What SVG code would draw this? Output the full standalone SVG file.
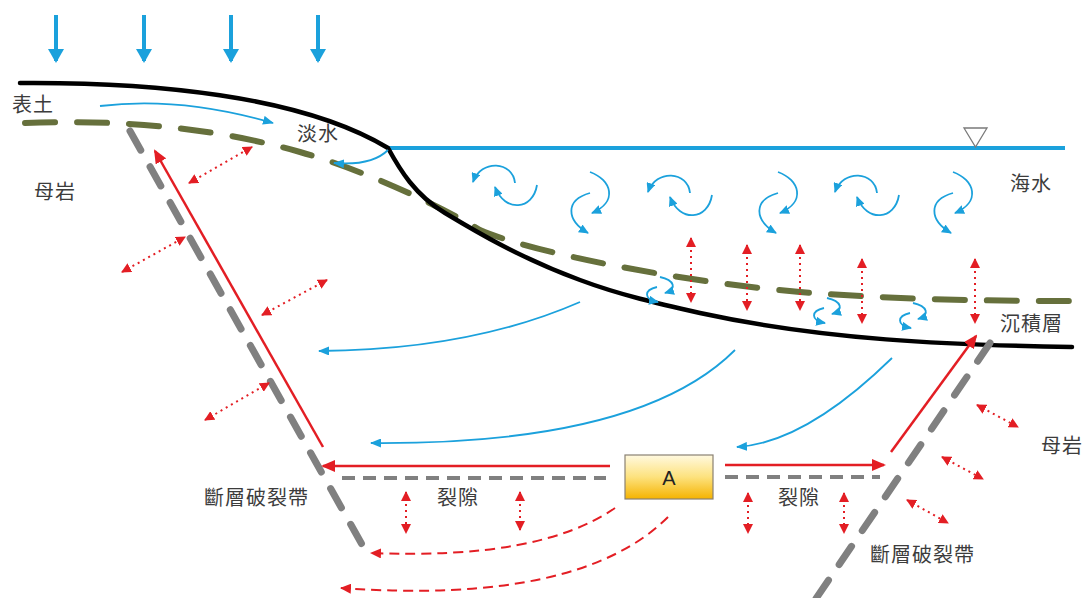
<svg xmlns="http://www.w3.org/2000/svg" xmlns:xlink="http://www.w3.org/1999/xlink" width="1084" height="598" viewBox="0 0 1084 598">
  <style>
    .lbl { font-family: "Noto Sans CJK TC", "Noto Sans CJK SC", "Noto Sans", sans-serif; font-size: 20px; fill: #3c3c3c; letter-spacing: 1px; }
    .flow { fill: none; stroke: #1ba1dc; stroke-width: 1.8; marker-end: url(#ahBlue); }
    .swirl { fill: none; stroke: #1ba1dc; stroke-width: 1.8; marker-end: url(#ahBlueS); }
    .rain { stroke: #1ba1dc; stroke-width: 4; marker-end: url(#ahRain); }
    .dot { fill: none; stroke: #e31e24; stroke-width: 2; stroke-dasharray: 2 4; marker-start: url(#ahRedS); marker-end: url(#ahRedS); }
    .redSolid { fill: none; stroke: #e31e24; stroke-width: 2.5; marker-end: url(#ahRedL); }
    .redDash { fill: none; stroke: #e31e24; stroke-width: 2; stroke-dasharray: 10 6; marker-end: url(#ahRedD); }
    .fault { fill: none; stroke: #808080; stroke-width: 7; stroke-linecap: round; stroke-dasharray: 22 19; }
    .crack { fill: none; stroke: #808080; stroke-width: 4; stroke-dasharray: 13 8; }
  </style>
  <defs>
    <marker id="ahBlue" viewBox="0 0 11 9" refX="10" refY="4.5" markerWidth="11" markerHeight="9" markerUnits="userSpaceOnUse" orient="auto">
      <path d="M0,0 L11,4.5 L0,9 z" fill="#1ba1dc"/>
    </marker>
    <marker id="ahBlueS" viewBox="0 0 10 9" refX="9" refY="4.5" markerWidth="10" markerHeight="9" markerUnits="userSpaceOnUse" orient="auto">
      <path d="M0,0 L10,4.5 L0,9 z" fill="#1ba1dc"/>
    </marker>
    <marker id="ahRain" viewBox="0 0 14 16" refX="12" refY="8" markerWidth="14" markerHeight="16" markerUnits="userSpaceOnUse" orient="auto">
      <path d="M0,0 L14,8 L0,16 z" fill="#1ba1dc"/>
    </marker>
    <marker id="ahRedL" viewBox="0 0 14 12" refX="12" refY="6" markerWidth="14" markerHeight="12" markerUnits="userSpaceOnUse" orient="auto">
      <path d="M0,0 L14,6 L0,12 z" fill="#e31e24"/>
    </marker>
    <marker id="ahRedS" viewBox="0 0 10 10" refX="9" refY="5" markerWidth="10" markerHeight="10" markerUnits="userSpaceOnUse" orient="auto-start-reverse">
      <path d="M0,0 L10,5 L0,10 z" fill="#e31e24"/>
    </marker>
    <marker id="ahRedD" viewBox="0 0 11 10" refX="10" refY="5" markerWidth="11" markerHeight="10" markerUnits="userSpaceOnUse" orient="auto">
      <path d="M0,0 L11,5 L0,10 z" fill="#e31e24"/>
    </marker>
    <linearGradient id="gradA" x1="0" y1="0" x2="0" y2="1">
      <stop offset="0" stop-color="#fff9e0"/>
      <stop offset="0.5" stop-color="#fde27e"/>
      <stop offset="1" stop-color="#f5b300"/>
    </linearGradient>
    <!-- horizontal eddy pair in the sea -->
    <g id="swirlH">
      <path class="swirl" d="M10,-2 C8,-24 -24,-26 -32,-3"/>
      <path class="swirl" d="M32,0 C28,25 0,28 -10,2"/>
    </g>
    <!-- vertical eddy pair in the sea -->
    <g id="swirlV">
      <path class="swirl" d="M0,0 C22,8 28,30 2,41"/>
      <path class="swirl" d="M0,21 C-25,28 -24,48 -2,61"/>
    </g>
    <!-- small eddy pair at the sediment -->
    <g id="swirlS">
      <path class="swirl" d="M0,0 C14,3 18,12 5,16"/>
      <path class="swirl" d="M-3,10 C-16,13 -17,22 -2,25"/>
    </g>
  </defs>

  <rect width="1084" height="598" fill="#ffffff"/>

  <!-- rainfall -->
  <g id="rain">
    <line class="rain" x1="56" y1="15" x2="56" y2="61"/>
    <line class="rain" x1="144" y1="15" x2="144" y2="61"/>
    <line class="rain" x1="231" y1="15" x2="231" y2="61"/>
    <line class="rain" x1="318" y1="15" x2="318" y2="61"/>
  </g>

  <!-- strata boundaries -->
  <g id="layers">
    <path id="soil-base" d="M25,123 C150,118 240,135 300,152 C350,166 420,195 480,230 C530,252 680,282 800,292 C900,300 1000,301 1072,301" fill="none" stroke="#66703c" stroke-width="6" stroke-dasharray="30 22" stroke-linecap="round"/>
    <line id="sea-surface" x1="388" y1="148" x2="1065" y2="148" stroke="#1ba1dc" stroke-width="4"/>
    <path id="ground" d="M20,83 C150,82 300,95 388,148 C400,170 415,195 445,213 C475,231 520,258 580,280 C620,295 660,304 700,313 C824,340 948,345 1072,347" fill="none" stroke="#000000" stroke-width="4.5" stroke-linecap="round"/>
    <path id="water-level" d="M964,128 L987,128 L975.5,147 z" fill="#ffffff" stroke="#7a7a7a" stroke-width="1.3"/>
  </g>

  <!-- fault zones and fractures -->
  <g id="fault-left">
    <line class="fault" x1="130" y1="131" x2="369" y2="557"/>
  </g>
  <g id="fault-right">
    <line class="fault" x1="990" y1="343" x2="815" y2="600"/>
  </g>
  <g id="fractures">
    <line class="crack" x1="342" y1="478" x2="606" y2="478"/>
    <line class="crack" x1="725" y1="477" x2="880" y2="477"/>
  </g>

  <!-- source A -->
  <g id="node-A">
    <rect x="625" y="455" width="88" height="44" fill="url(#gradA)" stroke="#8a8172" stroke-width="1.2"/>
    <text x="669" y="485" text-anchor="middle" font-family="'Liberation Sans', Arial, sans-serif" font-size="20" fill="#222222">A</text>
  </g>

  <g id="connectors">
    <!-- freshwater flow -->
    <path class="flow" d="M100,106 Q180,96 273,123"/>
    <path class="flow" d="M388,150 Q372,166 334,163"/>
    <!-- groundwater flow -->
    <path class="flow" d="M580,302 Q470,350 319,351"/>
    <path class="flow" d="M735,350 Q640,445 371,443"/>
    <path class="flow" d="M892,358 Q805,443 737,447"/>

    <!-- sea eddies -->
    <use href="#swirlH" x="505" y="185"/>
    <use href="#swirlV" x="590" y="172"/>
    <use href="#swirlH" x="680" y="195"/>
    <use href="#swirlV" x="778" y="172"/>
    <use href="#swirlH" x="867" y="195"/>
    <use href="#swirlV" x="953" y="172"/>

    <!-- eddies at the sediment -->
    <use href="#swirlS" x="660" y="277"/>
    <use href="#swirlS" x="827" y="298"/>
    <use href="#swirlS" x="913" y="303"/>

    <!-- exchange across the sediment -->
    <line class="dot" x1="691" y1="238" x2="691" y2="302"/>
    <line class="dot" x1="747" y1="245" x2="747" y2="310"/>
    <line class="dot" x1="800" y1="245" x2="800" y2="310"/>
    <line class="dot" x1="862" y1="259" x2="862" y2="323"/>
    <line class="dot" x1="975" y1="259" x2="975" y2="323"/>

    <!-- exchange with the bedrock, left side -->
    <line class="dot" x1="189" y1="183" x2="252" y2="147"/>
    <line class="dot" x1="122" y1="272" x2="185" y2="237"/>
    <line class="dot" x1="262" y1="315" x2="327" y2="280"/>
    <line class="dot" x1="205" y1="420" x2="269" y2="383"/>

    <!-- exchange with the bedrock, right side -->
    <line class="dot" x1="977" y1="405" x2="1018" y2="427"/>
    <line class="dot" x1="942" y1="457" x2="983" y2="479"/>
    <line class="dot" x1="907" y1="500" x2="948" y2="523"/>

    <!-- exchange across the fractures -->
    <line class="dot" x1="406" y1="492" x2="406" y2="533"/>
    <line class="dot" x1="520" y1="492" x2="520" y2="530"/>
    <line class="dot" x1="748" y1="493" x2="748" y2="533"/>
    <line class="dot" x1="844" y1="493" x2="844" y2="533"/>

    <!-- migration from A -->
    <line class="redSolid" x1="610" y1="466" x2="323" y2="466" stroke-width="3"/>
    <line class="redSolid" x1="725" y1="465" x2="884" y2="465" stroke-width="3"/>
    <line class="redSolid" x1="323" y1="447" x2="155" y2="151"/>
    <line class="redSolid" x1="891" y1="452" x2="976" y2="336"/>
    <path class="redDash" d="M615,508 Q540,560 371,553"/>
    <path class="redDash" d="M668,517 Q580,605 341,588"/>
  </g>

  <!-- labels -->
  <g id="labels">
    <text class="lbl" x="12" y="112">表土</text>
    <text class="lbl" x="297" y="141">淡水</text>
    <text class="lbl" x="34" y="199">母岩</text>
    <text class="lbl" x="1010" y="191">海水</text>
    <text class="lbl" x="1000" y="331">沉積層</text>
    <text class="lbl" x="1041" y="453">母岩</text>
    <text class="lbl" x="204" y="505">斷層破裂帶</text>
    <text class="lbl" x="437" y="505">裂隙</text>
    <text class="lbl" x="778" y="505">裂隙</text>
    <text class="lbl" x="870" y="562">斷層破裂帶</text>
  </g>
</svg>
